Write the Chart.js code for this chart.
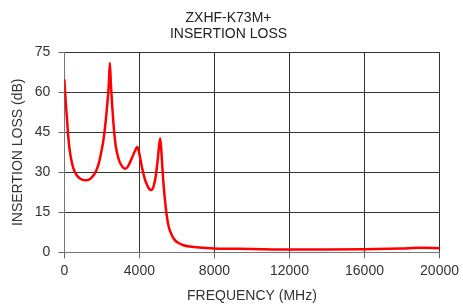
<!DOCTYPE html>
<html>
<head>
<meta charset="utf-8">
<script src="https://cdn.jsdelivr.net/npm/chart.js@4"></script>
<style>
  html, body { margin: 0; padding: 0; background: #fff; }
  #wrap { width: 463px; height: 305px; }
</style>
</head>
<body>
<div id="wrap"><canvas id="grafico" width="463" height="305"></canvas></div>
<script>
// dados
const freqMHz = [0, 40, 80, 140, 200, 280, 360, 480, 650, 850, 1100, 1350, 1600, 1800, 1950, 2080, 2200, 2300, 2370, 2425, 2480, 2550, 2620, 2700, 2800, 2950, 3100, 3250, 3400, 3590, 3750, 3890, 3980, 4120, 4250, 4390, 4520, 4650, 4760, 4880, 4980, 5050, 5110, 5170, 5215, 5260, 5305, 5380, 5450, 5550, 5710, 5880, 6060, 6350, 6680, 7200, 8000, 10000, 12000, 14000, 16000, 18000, 19000, 20000];
const lossDb = [64.8, 60, 55.5, 50, 44, 38.5, 35, 31.5, 29, 27.6, 27.0, 27.4, 29.3, 32.5, 37, 42, 49, 56.6, 63, 71.0, 63, 55, 48, 42, 37.5, 33.8, 32, 31.3, 32.3, 35.2, 37.8, 39.5, 37.5, 32.5, 28.5, 25.5, 23.8, 23.4, 24.8, 29, 35, 40, 42.7, 38, 33, 28, 24, 18.5, 14.2, 10, 6.7, 4.7, 3.6, 2.7, 2.2, 1.8, 1.5, 1.3, 1.1, 1.1, 1.2, 1.5, 1.7, 1.6];
const xTicks = [0, 4000, 8000, 12000, 16000, 20000];
const yTicks = [0, 15, 30, 45, 60, 75];

const fonte = { family: "'Liberation Sans', Arial, sans-serif", size: 14 };

const pontos = freqMHz.map((f, i) => ({ x: f, y: lossDb[i] }));

new Chart(document.getElementById('grafico'), {
  type: 'line',
  data: {
    datasets: [{
      data: pontos,
      borderColor: '#ff0000',
      borderWidth: 2.5,
      pointRadius: 0,
      fill: false,
      cubicInterpolationMode: 'monotone'
    }]
  },
  options: {
    responsive: false,
    animation: false,
    layout: { padding: { left: 8, right: 14, top: 8, bottom: 0 } },
    plugins: {
      legend: { display: false },
      tooltip: { enabled: false },
      title: {
        display: true,
        text: ['ZXHF-K73M+', 'INSERTION LOSS'],
        color: '#222',
        font: { ...fonte, weight: 'normal', lineHeight: 1.15 },
        padding: { top: 2, bottom: 10 }
      }
    },
    scales: {
      x: {
        type: 'linear',
        min: 0,
        max: 20000,
        afterBuildTicks: ax => { ax.ticks = xTicks.map(v => ({ value: v })); },
        ticks: { color: '#333', font: fonte, maxRotation: 0, padding: 4, callback: v => String(v) },
        grid: { color: '#333', lineWidth: 1, tickLength: 6, tickColor: '#666' },
        border: { color: '#777', width: 1 },
        title: { display: true, text: 'FREQUENCY (MHz)', color: '#333', font: fonte, padding: { top: 5, bottom: 0 } }
      },
      y: {
        min: 0,
        max: 75,
        afterBuildTicks: ax => { ax.ticks = yTicks.map(v => ({ value: v })); },
        ticks: { color: '#333', font: fonte, padding: 8, callback: v => String(v) },
        grid: { color: '#333', lineWidth: 1, tickLength: 6, tickColor: '#666' },
        border: { color: '#777', width: 1 },
        title: { display: true, text: 'INSERTION LOSS (dB)', color: '#333', font: fonte, padding: { top: 2, bottom: 0 } }
      }
    }
  }
});
</script>
</body>
</html>
